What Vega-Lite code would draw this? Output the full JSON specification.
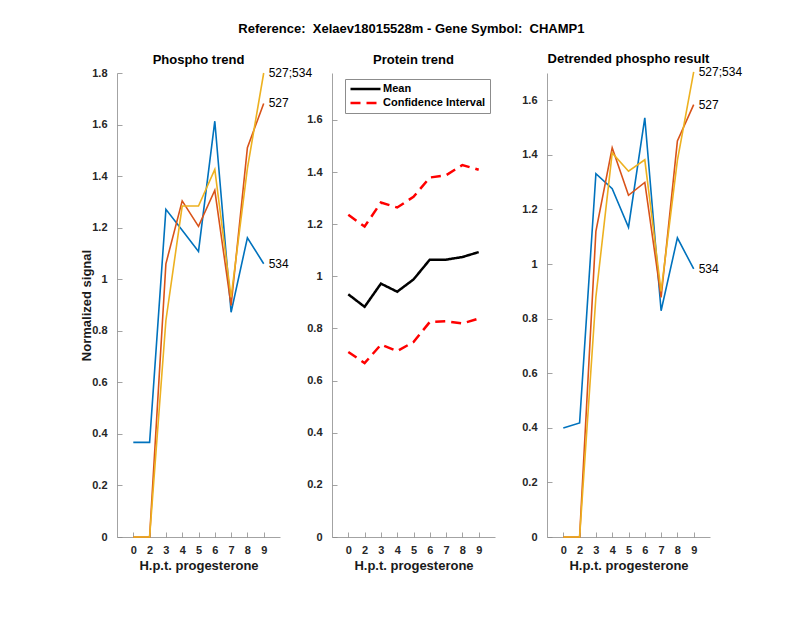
{
  "$schema": "https://vega.github.io/schema/vega-lite/v6.json",
  "background": "white",
  "padding": {"left": 80, "top": 22, "right": 10, "bottom": 10},
  "title": {"text": "Reference:\u00a0 Xelaev18015528m - Gene Symbol:\u00a0 CHAMP1", "fontSize": 13, "fontWeight": "bold", "font": "Liberation Sans", "anchor": "middle", "offset": 17, "color": "black"},
  "bounds": "flush",
  "spacing": 52,
  "resolve": {"scale": {"color": "independent", "strokeDash": "independent", "x": "independent", "y": "independent"}},
  "config": {
    "font": "Liberation Sans",
    "view": {"stroke": null},
    "axis": {"grid": false, "domainColor": "#8c8c8c", "tickColor": "#8c8c8c", "domainWidth": 0.8, "tickWidth": 0.8, "tickSize": -5, "labelFont": "Liberation Sans", "labelFontSize": 11, "labelFontWeight": "bold", "labelColor": "#262626", "titleFont": "Liberation Sans", "titleFontSize": 13, "titleFontWeight": "bold", "titleColor": "#1a1a1a"},
    "axisY": {"labelPadding": 15, "titlePadding": -2},
    "axisX": {"labelPadding": 12, "titlePadding": 4, "labelAngle": 0},
    "title": {"fontSize": 13, "fontWeight": "bold", "color": "black", "offset": 6, "font": "Liberation Sans"}
  },
  "datasets": {
    "phospho": [
      {"hpt": 0, "site": "534", "value": 0.367}, {"hpt": 2, "site": "534", "value": 0.367}, {"hpt": 3, "site": "534", "value": 1.271}, {"hpt": 4, "site": "534", "value": 1.19}, {"hpt": 5, "site": "534", "value": 1.108}, {"hpt": 6, "site": "534", "value": 1.613}, {"hpt": 7, "site": "534", "value": 0.872}, {"hpt": 8, "site": "534", "value": 1.161}, {"hpt": 9, "site": "534", "value": 1.06},
      {"hpt": 0, "site": "527", "value": 0}, {"hpt": 2, "site": "527", "value": 0}, {"hpt": 3, "site": "527", "value": 1.06}, {"hpt": 4, "site": "527", "value": 1.304}, {"hpt": 5, "site": "527", "value": 1.205}, {"hpt": 6, "site": "527", "value": 1.345}, {"hpt": 7, "site": "527", "value": 0.898}, {"hpt": 8, "site": "527", "value": 1.51}, {"hpt": 9, "site": "527", "value": 1.682},
      {"hpt": 0, "site": "527;534", "value": 0}, {"hpt": 2, "site": "527;534", "value": 0}, {"hpt": 3, "site": "527;534", "value": 0.84}, {"hpt": 4, "site": "527;534", "value": 1.284}, {"hpt": 5, "site": "527;534", "value": 1.284}, {"hpt": 6, "site": "527;534", "value": 1.426}, {"hpt": 7, "site": "527;534", "value": 0.93}, {"hpt": 8, "site": "527;534", "value": 1.43}, {"hpt": 9, "site": "527;534", "value": 1.8}
    ],
    "protein": [
      {"hpt": 0, "series": "Mean", "type": "Mean", "value": 0.931}, {"hpt": 2, "series": "Mean", "type": "Mean", "value": 0.883}, {"hpt": 3, "series": "Mean", "type": "Mean", "value": 0.972}, {"hpt": 4, "series": "Mean", "type": "Mean", "value": 0.941}, {"hpt": 5, "series": "Mean", "type": "Mean", "value": 0.988}, {"hpt": 6, "series": "Mean", "type": "Mean", "value": 1.064}, {"hpt": 7, "series": "Mean", "type": "Mean", "value": 1.064}, {"hpt": 8, "series": "Mean", "type": "Mean", "value": 1.074}, {"hpt": 9, "series": "Mean", "type": "Mean", "value": 1.093},
      {"hpt": 0, "series": "Upper", "type": "Confidence Interval", "value": 1.236}, {"hpt": 2, "series": "Upper", "type": "Confidence Interval", "value": 1.191}, {"hpt": 3, "series": "Upper", "type": "Confidence Interval", "value": 1.283}, {"hpt": 4, "series": "Upper", "type": "Confidence Interval", "value": 1.264}, {"hpt": 5, "series": "Upper", "type": "Confidence Interval", "value": 1.305}, {"hpt": 6, "series": "Upper", "type": "Confidence Interval", "value": 1.379}, {"hpt": 7, "series": "Upper", "type": "Confidence Interval", "value": 1.388}, {"hpt": 8, "series": "Upper", "type": "Confidence Interval", "value": 1.427}, {"hpt": 9, "series": "Upper", "type": "Confidence Interval", "value": 1.409},
      {"hpt": 0, "series": "Lower", "type": "Confidence Interval", "value": 0.71}, {"hpt": 2, "series": "Lower", "type": "Confidence Interval", "value": 0.667}, {"hpt": 3, "series": "Lower", "type": "Confidence Interval", "value": 0.738}, {"hpt": 4, "series": "Lower", "type": "Confidence Interval", "value": 0.713}, {"hpt": 5, "series": "Lower", "type": "Confidence Interval", "value": 0.748}, {"hpt": 6, "series": "Lower", "type": "Confidence Interval", "value": 0.825}, {"hpt": 7, "series": "Lower", "type": "Confidence Interval", "value": 0.828}, {"hpt": 8, "series": "Lower", "type": "Confidence Interval", "value": 0.819}, {"hpt": 9, "series": "Lower", "type": "Confidence Interval", "value": 0.838}
    ],
    "detrended": [
      {"hpt": 0, "site": "534", "value": 0.399}, {"hpt": 2, "site": "534", "value": 0.418}, {"hpt": 3, "site": "534", "value": 1.331}, {"hpt": 4, "site": "534", "value": 1.276}, {"hpt": 5, "site": "534", "value": 1.135}, {"hpt": 6, "site": "534", "value": 1.536}, {"hpt": 7, "site": "534", "value": 0.829}, {"hpt": 8, "site": "534", "value": 1.096}, {"hpt": 9, "site": "534", "value": 0.982},
      {"hpt": 0, "site": "527", "value": 0}, {"hpt": 2, "site": "527", "value": 0}, {"hpt": 3, "site": "527", "value": 1.12}, {"hpt": 4, "site": "527", "value": 1.426}, {"hpt": 5, "site": "527", "value": 1.252}, {"hpt": 6, "site": "527", "value": 1.299}, {"hpt": 7, "site": "527", "value": 0.878}, {"hpt": 8, "site": "527", "value": 1.451}, {"hpt": 9, "site": "527", "value": 1.584},
      {"hpt": 0, "site": "527;534", "value": 0}, {"hpt": 2, "site": "527;534", "value": 0}, {"hpt": 3, "site": "527;534", "value": 0.88}, {"hpt": 4, "site": "527;534", "value": 1.407}, {"hpt": 5, "site": "527;534", "value": 1.34}, {"hpt": 6, "site": "527;534", "value": 1.382}, {"hpt": 7, "site": "527;534", "value": 0.9}, {"hpt": 8, "site": "527;534", "value": 1.38}, {"hpt": 9, "site": "527;534", "value": 1.704}
    ]
  },
  "hconcat": [
    {
      "width": 163, "height": 464,
      "title": {"text": "Phospho trend", "offset": 0},
      "data": {"name": "phospho"},
      "encoding": {
        "x": {"field": "hpt", "type": "ordinal", "scale": {"type": "point", "padding": 1}, "axis": {"title": "H.p.t. progesterone"}},
        "y": {"field": "value", "type": "quantitative", "scale": {"domain": [0, 1.8], "nice": false}, "axis": {"title": "Normalized signal", "values": [0, 0.2, 0.4, 0.6, 0.8, 1, 1.2, 1.4, 1.6, 1.8], "format": ".1~f"}}
      },
      "layer": [
        {"mark": {"type": "line", "strokeWidth": 1.6}, "encoding": {"color": {"field": "site", "type": "nominal", "scale": {"domain": ["534", "527", "527;534"], "range": ["#0072BD", "#D95319", "#EDB120"]}, "legend": null}}},
        {"transform": [{"filter": "datum.hpt == 9"}], "mark": {"type": "text", "align": "left", "baseline": "middle", "dx": 5, "fontSize": 12, "color": "black", "font": "Liberation Sans"}, "encoding": {"text": {"field": "site"}}}
      ]
    },
    {
      "width": 163, "height": 464,
      "title": "Protein trend",
      "data": {"name": "protein"},
      "mark": {"type": "line", "strokeWidth": 2.5},
      "encoding": {
        "x": {"field": "hpt", "type": "ordinal", "scale": {"type": "point", "padding": 1}, "axis": {"title": "H.p.t. progesterone"}},
        "y": {"field": "value", "type": "quantitative", "scale": {"domain": [0, 1.78], "nice": false}, "axis": {"title": null, "values": [0, 0.2, 0.4, 0.6, 0.8, 1, 1.2, 1.4, 1.6], "format": ".1~f"}},
        "detail": {"field": "series"},
        "color": {"field": "type", "type": "nominal", "scale": {"domain": ["Mean", "Confidence Interval"], "range": ["black", "#ff0000"]}, "legend": {"title": null, "orient": "none", "legendX": 13, "legendY": 6, "symbolType": "stroke", "symbolSize": 900, "symbolStrokeWidth": 2.5, "clipHeight": 12, "labelFontSize": 11, "labelFontWeight": "bold", "labelColor": "black", "labelFont": "Liberation Sans", "strokeColor": "#8c8c8c", "fillColor": "white", "padding": 4, "labelOffset": 1, "rowPadding": 2}},
        "strokeDash": {"field": "type", "type": "nominal", "scale": {"domain": ["Mean", "Confidence Interval"], "range": [[1, 0], [10, 6]]}, "legend": {"title": null, "orient": "none", "legendX": 13, "legendY": 6, "symbolType": "stroke", "symbolSize": 900, "symbolStrokeWidth": 2.5, "clipHeight": 12, "labelFontSize": 11, "labelFontWeight": "bold", "labelColor": "black", "labelFont": "Liberation Sans", "strokeColor": "#8c8c8c", "fillColor": "white", "padding": 4, "labelOffset": 1, "rowPadding": 2}}
      }
    },
    {
      "width": 163, "height": 464,
      "title": {"text": "Detrended phospho result", "offset": 0},
      "data": {"name": "detrended"},
      "encoding": {
        "x": {"field": "hpt", "type": "ordinal", "scale": {"type": "point", "padding": 1}, "axis": {"title": "H.p.t. progesterone"}},
        "y": {"field": "value", "type": "quantitative", "scale": {"domain": [0, 1.7], "nice": false}, "axis": {"title": null, "values": [0, 0.2, 0.4, 0.6, 0.8, 1, 1.2, 1.4, 1.6], "format": ".1~f"}}
      },
      "layer": [
        {"mark": {"type": "line", "strokeWidth": 1.6}, "encoding": {"color": {"field": "site", "type": "nominal", "scale": {"domain": ["534", "527", "527;534"], "range": ["#0072BD", "#D95319", "#EDB120"]}, "legend": null}}},
        {"transform": [{"filter": "datum.hpt == 9"}], "mark": {"type": "text", "align": "left", "baseline": "middle", "dx": 5, "fontSize": 12, "color": "black", "font": "Liberation Sans"}, "encoding": {"text": {"field": "site"}}}
      ]
    }
  ]
}
